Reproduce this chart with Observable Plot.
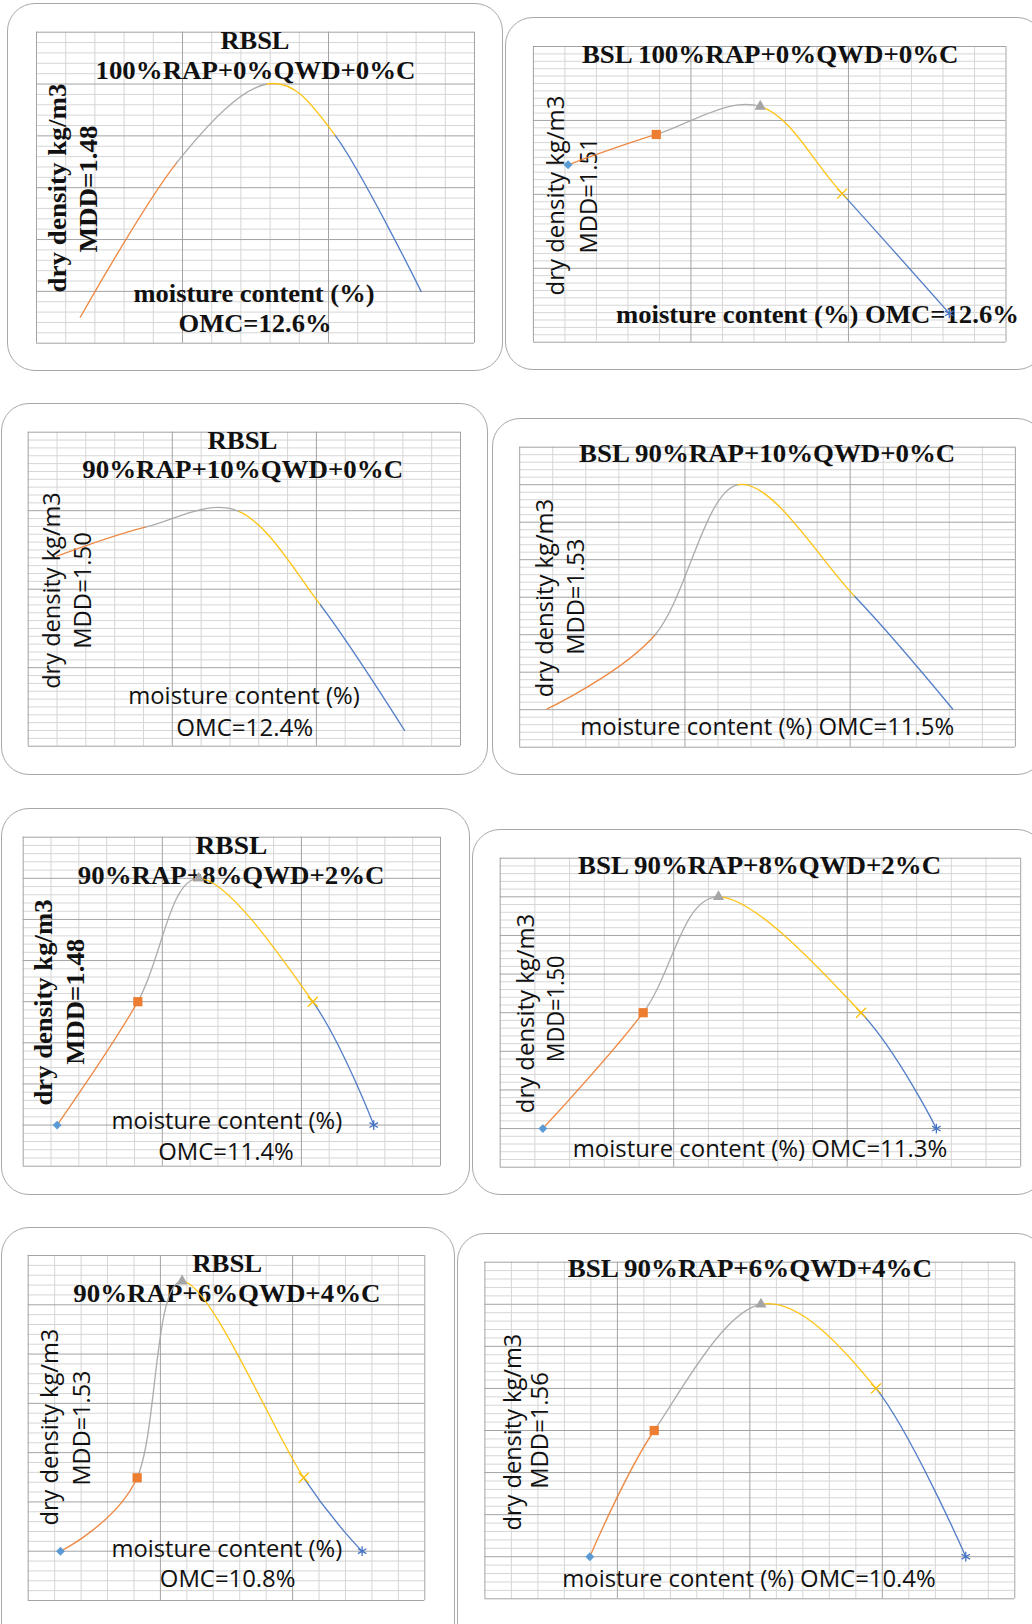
<!DOCTYPE html>
<html><head><meta charset="utf-8">
<script src="https://cdn.jsdelivr.net/npm/d3@7"></script>
<script src="https://cdn.jsdelivr.net/npm/@observablehq/plot@0.6"></script>
<style>
html,body{margin:0;padding:0;background:#fff;}
#root{position:relative;width:1032px;height:1624px;overflow:hidden;background:#fff;}
.frame{position:absolute;border:1.4px solid #a8a8a8;border-radius:28px;box-sizing:border-box;background:transparent;pointer-events:none;}
</style></head>
<body><div id="root"></div>
<script>
// ---------- DATA ----------
const layers = ["RBSL", "BSL", "RBSL", "BSL", "RBSL", "BSL", "RBSL", "BSL"];
const mixes = ["100%RAP+0%QWD+0%C", "100%RAP+0%QWD+0%C", "90%RAP+10%QWD+0%C", "90%RAP+10%QWD+0%C",
               "90%RAP+8%QWD+2%C", "90%RAP+8%QWD+2%C", "90%RAP+6%QWD+4%C", "90%RAP+6%QWD+4%C"];
const mddValues = ["1.48", "1.51", "1.50", "1.53", "1.48", "1.50", "1.53", "1.56"];
const omcValues = ["12.6", "12.6", "12.4", "11.5", "11.4", "11.3", "10.8", "10.4"];
const yLabel = "dry density kg/m3";
const xLabel = "moisture content (%)";

// compaction points, in grid units (columns from left, rows from bottom)
const moisture1 = [1.5, 4.8, 7.9, 10.24, 13.17];
const density1  = [2.5, 17.4, 25.0, 20.0, 5.0];
const moisture2 = [1.1, 3.9, 7.2, 9.8, 13.2];
const density2  = [24.0, 28.1, 31.9, 20.1, 3.9];
const moisture3 = [1.0, 4.07, 7.31, 10.14, 13.06];
const density3  = [24.2, 27.9, 29.9, 18.0, 2.0];
const moisture4 = [0.83, 4.1, 6.61, 10.14, 13.1];
const density4  = [5.1, 15.0, 35.0, 20.1, 5.1];
const moisture5 = [1.22, 4.12, 6.31, 10.41, 12.6];
const density5  = [5.0, 20.0, 35.0, 20.0, 5.0];
const moisture6 = [1.23, 4.12, 6.29, 10.4, 12.57];
const density6  = [5.0, 20.0, 35.0, 20.0, 5.0];
const moisture7 = [1.22, 4.12, 5.82, 10.42, 12.63];
const density7  = [5.0, 12.45, 32.4, 12.45, 5.0];
const moisture8 = [3.96, 6.39, 10.42, 14.76, 18.15];
const density8  = [5.0, 20.0, 35.0, 25.0, 5.0];

const gridCols = [15, 15, 15, 15, 15, 15, 15, 20];
const gridRows = [30, 40, 40, 40, 40, 40, 35, 40];
const rowsPerMajor = [5, 10, 10, 5, 5, 5, 5, 5];
const showMarkers = [false, true, false, false, true, true, true, true];

// ---------- STYLE / LAYOUT ----------
const pointColors = ["#5B9BD5", "#ED7D31", "#A5A5A5", "#FFC000", "#4472C4"];
const segColors = ["#ED7D31", "#A5A5A5", "#FFC000", "#4472C4"];
const symbols = ["diamond2", "square", "triangle", "times", "asterisk"];
const symFilled = [true, true, true, false, false];
const symR = [4.0, 5.2, 4.2, 4.6, 4.6];
const SERIF = "'Liberation Serif','Times New Roman',serif";
const SANS = "'Open Sans','Liberation Sans',sans-serif";

const layouts = [
  {frame: [7, 3, 503, 371], plot: [36, 31.7, 474, 342.7], texts: [
    ["layer", "S", 220, 289, 48.3], ["mix", "S", 95, 415, 78.3],
    ["ylab", "S", 65.7, 83, 292, 1], ["mdd", "S", 96.7, 125, 252, 1],
    ["xlab", "S", 133, 374, 301.7], ["omc", "S", 178, 331, 331.7]]},
  {frame: [505, 17, 1045, 370], plot: [532.9, 46, 1005.5, 341.7], texts: [
    ["title", "S", 581.4, 958, 62],
    ["ylab", "A", 563.4, 95, 295, 1], ["mdd", "A", 596, 137, 253, 1],
    ["xomc", "S", 615.4, 1018.4, 322.5]]},
  {frame: [1, 403, 488, 775], plot: [27.7, 431.7, 460, 745.7], texts: [
    ["layer", "S", 207, 277, 448.3], ["mix", "S", 81.7, 402.7, 477.7],
    ["ylab", "A", 59.3, 491.7, 688.3, 1], ["mdd", "A", 90.7, 531.7, 648.3, 1],
    ["xlab", "A", 127.7, 359.3, 703], ["omc", "A", 175.7, 312.7, 735]]},
  {frame: [491.5, 418, 1045, 775], plot: [518.7, 446.7, 1014.4, 746.7], texts: [
    ["title", "S", 578.1, 954.2, 461.7],
    ["ylab", "A", 551.5, 498.3, 696.7, 1], ["mdd", "A", 582.6, 538.3, 654.3, 1],
    ["xomc", "A", 579.2, 953.2, 734.3]]},
  {frame: [1, 808, 470, 1195], plot: [22.7, 836.7, 440, 1165.7], texts: [
    ["layer", "S", 195, 266.7, 853.3], ["mix", "S", 77.3, 384, 883.3],
    ["ylab", "S", 51.7, 899, 1105, 1], ["mdd", "S", 83.3, 938.3, 1064.3, 1],
    ["xlab", "A", 111, 341.7, 1128], ["omc", "A", 157.7, 293.3, 1159]]},
  {frame: [472, 829, 1045, 1195], plot: [499.7, 857.7, 1020.2, 1166.7], texts: [
    ["title", "S", 577.5, 940.6, 873.3],
    ["ylab", "A", 533.8, 913.3, 1112.7, 1], ["mdd", "A", 563.9, 955, 1061.7, 1],
    ["xomc", "A", 572.2, 946.7, 1156]]},
  {frame: [1, 1227, 455, 1660], plot: [27.7, 1255, 424.3, 1600], texts: [
    ["layer", "S", 191.7, 261.7, 1271.7], ["mix", "S", 72.7, 380, 1301.7],
    ["ylab", "A", 57.3, 1328.3, 1525, 1], ["mdd", "A", 89.3, 1370, 1485, 1],
    ["xlab", "A", 111, 341.7, 1556.7], ["omc", "A", 159.3, 295, 1586.7]]},
  {frame: [457, 1233, 1045, 1660], plot: [484.4, 1261.7, 1014.3, 1598.3], texts: [
    ["title", "S", 567.2, 931.5, 1276.7],
    ["ylab", "A", 520.5, 1333.3, 1530, 1], ["mdd", "A", 547, 1371.7, 1488.3, 1],
    ["xomc", "A", 561.7, 935.2, 1586.7]]}
];

const moistures = [moisture1, moisture2, moisture3, moisture4, moisture5, moisture6, moisture7, moisture8];
const densities = [density1, density2, density3, density4, density5, density6, density7, density8];

const root = document.getElementById("root");
const NS = "http://www.w3.org/2000/svg";

function makePanel(k) {
  const lay = layouts[k];
  const [fl, ft, fr, fb] = lay.frame;
  const [pl, pt, pr, pb] = lay.plot;
  const W = fr - fl, H = fb - ft;
  const mL = pl - fl, mT = pt - ft, mR = fr - pr, mB = fb - pb;
  const cols = gridCols[k], rows = gridRows[k], rMaj = rowsPerMajor[k];
  const mc = moistures[k], dd = densities[k];
  const pts = mc.map((m, i) => ({m, d: dd[i], i}));
  const strings = {
    layer: layers[k], mix: mixes[k], title: layers[k] + " " + mixes[k],
    ylab: yLabel, mdd: "MDD=" + mddValues[k], xlab: xLabel,
    omc: "OMC=" + omcValues[k] + "%", xomc: xLabel + " OMC=" + omcValues[k] + "%"
  };
  const colsAll = d3.range(0, cols + 1);
  const rowsAll = d3.range(0, rows + 1);

  const textMarks = [], lengths = [];
  for (const [key, font, a, b, c, rot] of lay.texts) {
    const serif = font === "S";
    const fs = serif ? (rot ? 25 : 24.5) : 24;
    let ax, ay, len;
    if (rot) { ax = a - 0.32 * fs; ay = (b + c) / 2; len = c - b; }
    else { ax = (a + b) / 2; ay = c - 0.32 * fs; len = b - a; }
    lengths.push(len);
    textMarks.push(Plot.text([strings[key]], {
      text: d => d, frameAnchor: "top-left", dx: ax - pl, dy: ay - pt,
      textAnchor: "middle", lineAnchor: "middle", rotate: rot ? -90 : 0,
      fontSize: fs, fontFamily: serif ? SERIF : SANS, fontWeight: serif ? "bold" : "normal", fill: "#111"
    }));
  }

  const marks = [
    Plot.ruleX(colsAll.filter(c => c % 5 !== 0), {stroke: "#d6d6d6", strokeWidth: 1}),
    Plot.ruleY(rowsAll.filter(r => r % rMaj !== 0), {stroke: "#d6d6d6", strokeWidth: 1}),
    Plot.ruleX(colsAll.filter(c => c % 5 === 0), {stroke: "#a3a3a3", strokeWidth: 1}),
    Plot.ruleY(rowsAll.filter(r => r % rMaj === 0), {stroke: "#a3a3a3", strokeWidth: 1}),
    ...textMarks,
    ...segColors.map(c => Plot.line(pts, {x: "m", y: "d", stroke: c, strokeWidth: 1.35, strokeOpacity: 0.9, curve: "catmull-rom", tension: 0}))
  ];
  if (showMarkers[k]) {
    pts.forEach((p, i) => {
      marks.push(Plot.dot([p], {
        x: "m", y: "d", symbol: symbols[i], r: symR[i],
        fill: symFilled[i] ? pointColors[i] : "none",
        stroke: symFilled[i] ? "none" : pointColors[i], strokeWidth: 1.3
      }));
    });
  }

  const svg = Plot.plot({
    width: W, height: H,
    marginLeft: mL, marginTop: mT, marginRight: mR, marginBottom: mB,
    x: {domain: [0, cols], axis: null},
    y: {domain: [0, rows], axis: null},
    style: {background: "transparent", overflow: "visible"},
    marks
  });
  svg.style.position = "absolute";
  svg.style.left = fl + "px";
  svg.style.top = ft + "px";
  svg.style.maxWidth = "none";
  svg.style.background = "transparent";
  svg.style.overflow = "visible";

  // exact text widths
  svg.querySelectorAll('g[aria-label="text"] text').forEach((el, i) => {
    if (lengths[i] != null) {
      el.setAttribute("textLength", lengths[i]);
      el.setAttribute("lengthAdjust", "spacingAndGlyphs");
    }
  });

  // colour each part of the smoothed curve like the reference (segment i -> i+1)
  const px = v => mL + v / cols * (W - mL - mR);
  const defs = document.createElementNS(NS, "defs");
  svg.insertBefore(defs, svg.firstChild);
  svg.querySelectorAll('g[aria-label="line"]').forEach((g, s) => {
    let xa = px(mc[s]), xb = px(mc[s + 1]);
    if (s === 0) xa -= 12;
    if (s === segColors.length - 1) xb += 12;
    const id = `clip-${k}-${s}`;
    const cp = document.createElementNS(NS, "clipPath");
    cp.setAttribute("id", id);
    const r = document.createElementNS(NS, "rect");
    r.setAttribute("x", xa - 0.4);
    r.setAttribute("width", xb - xa + 0.8);
    r.setAttribute("y", -100);
    r.setAttribute("height", H + 200);
    cp.appendChild(r);
    defs.appendChild(cp);
    g.setAttribute("clip-path", `url(#${id})`);
  });

  root.appendChild(svg);
  const fd = document.createElement("div");
  fd.className = "frame";
  fd.style.left = fl + "px";
  fd.style.top = ft + "px";
  fd.style.width = W + "px";
  fd.style.height = H + "px";
  root.appendChild(fd);
}

for (let k = 0; k < 8; k++) makePanel(k);
</script>
</body></html>
